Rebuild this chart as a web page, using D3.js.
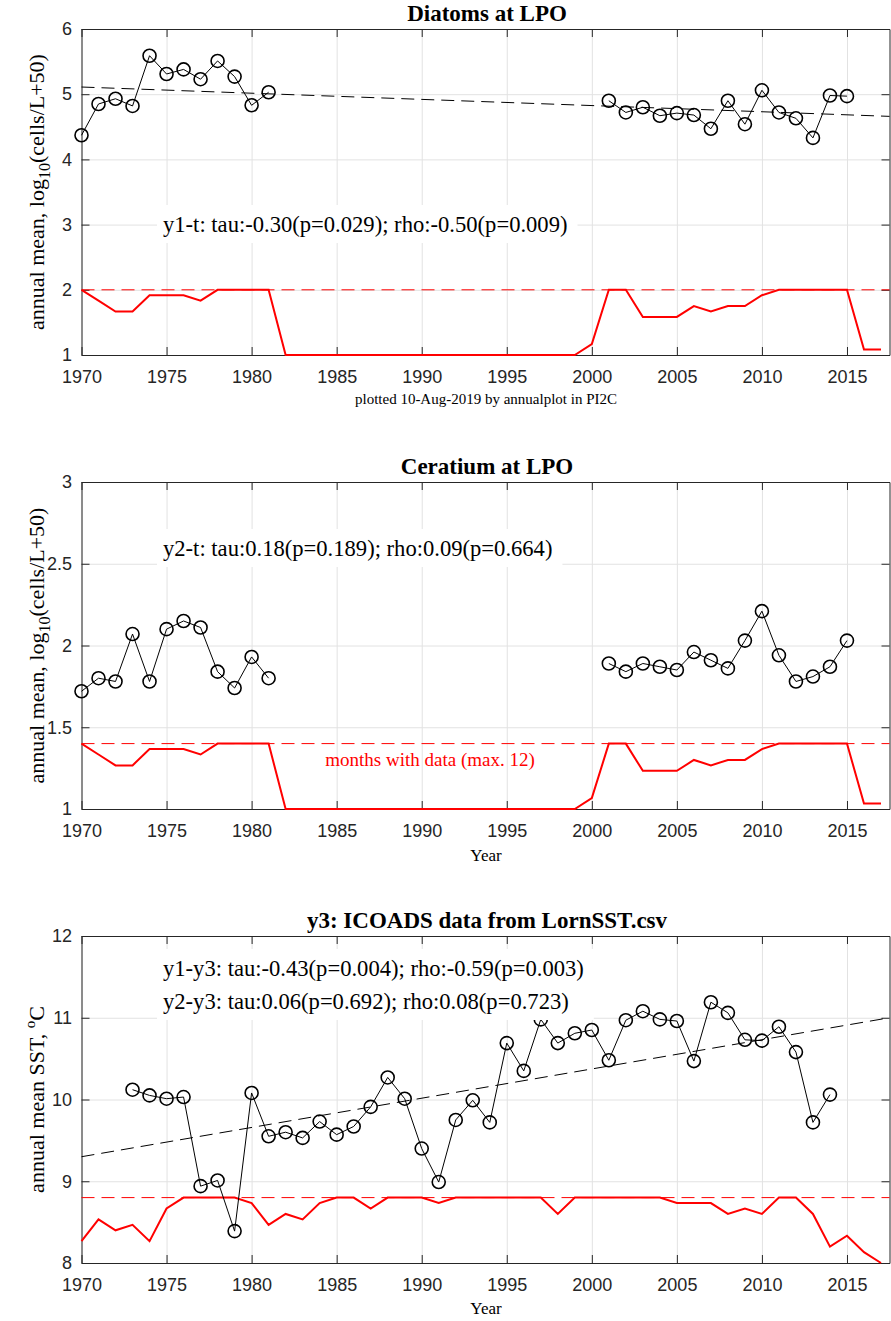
<!DOCTYPE html>
<html><head><meta charset="utf-8">
<script src="https://cdn.jsdelivr.net/npm/d3@7/dist/d3.min.js"></script>
<style>body{margin:0;background:#fff}svg{display:block}</style>
</head><body>
<script>
// ---------- DATA ----------
const years = [1970,1971,1972,1973,1974,1975,1976,1977,1978,1979,1980,1981,1982,1983,1984,1985,1986,1987,1988,1989,
  1990,1991,1992,1993,1994,1995,1996,1997,1998,1999,2000,2001,2002,2003,2004,2005,2006,2007,2008,2009,
  2010,2011,2012,2013,2014,2015,2016,2017];
const xTickValues = [1970,1975,1980,1985,1990,1995,2000,2005,2010,2015];

// Diatoms annual mean log10(cells/L+50)
const diatoms = [4.37,4.85,4.93,4.82,5.59,5.31,5.38,5.23,5.51,5.27,4.83,5.03,
  null,null,null,null,null,null,null,null,null,null,null,null,null,null,null,null,null,null,null,
  4.90,4.72,4.80,4.67,4.71,4.68,4.47,4.90,4.54,5.06,4.72,4.63,4.33,4.98,4.97,null,null];
// Ceratium annual mean log10(cells/L+50)
const ceratium = [1.72,1.80,1.78,2.07,1.78,2.10,2.15,2.11,1.84,1.74,1.93,1.80,
  null,null,null,null,null,null,null,null,null,null,null,null,null,null,null,null,null,null,null,
  1.89,1.84,1.89,1.87,1.85,1.96,1.91,1.86,2.03,2.21,1.94,1.78,1.81,1.87,2.03,null,null];
// months with plankton data (max 12)
const planktonMonths = [12,10,8,8,11,11,11,10,12,12,12,12,
  0,0,0,0,0,0,0,0,0,0,0,0,0,0,0,0,0,0,2,
  12,12,7,7,7,9,8,9,9,11,12,12,12,12,12,1,1];
// ICOADS annual mean SST
const sst = [null,null,null,10.12,10.05,10.01,10.03,8.94,9.01,8.39,10.08,9.55,9.60,9.53,9.73,9.57,9.67,9.91,10.27,10.01,
  9.40,8.99,9.75,9.99,9.72,10.69,10.35,10.98,10.69,10.81,10.85,10.48,10.97,11.08,10.98,10.96,10.47,11.19,11.06,10.73,
  10.72,10.89,10.58,9.72,10.06,null,null,null];
// months with SST data
const sstMonths = [4,8,6,7,4,10,12,12,12,12,11,7,9,8,11,12,12,10,12,12,
  12,11,12,12,12,12,12,12,9,12,12,12,12,12,12,11,11,11,9,10,
  9,12,12,9,3,5,2,0];
// linear trend end points
const trendYears = [1970, 2017.5];
const diatomTrend = [5.11, 4.66];
const sstTrend = [9.30, 11.00];

// ---------- LAYOUT ----------
const W = 891, H = 1321;
const serif = '"Liberation Serif","Times New Roman",Times,serif';
const sans = '"Liberation Sans",Arial,Helvetica,sans-serif';
const axisCol = '#262626', gridCol = '#e2e2e2';
const svg = d3.select('body').append('svg').attr('width', W).attr('height', H);
const x = d3.scaleLinear().domain([1970, 2017.5]).range([81.5, 889.5]);

function styleAxis(s, keepText){
  s.select('.domain').attr('stroke', axisCol).attr('stroke-width', 1);
  s.selectAll('.tick line').attr('stroke', axisCol).attr('stroke-width', 1);
  s.selectAll('.tick text').attr('fill', axisCol).attr('font-family', sans).attr('font-size', 18);
  if(!keepText) s.selectAll('.tick text').remove();
}

function panel(o){
  const y = d3.scaleLinear().domain(o.domain).range([o.bottom, o.top]);
  const g = svg.append('g');
  const h = o.bottom - o.top, w = x.range()[1] - x.range()[0];
  // grid
  g.append('g').attr('transform', `translate(0,${o.bottom})`)
    .call(d3.axisBottom(x).tickValues(xTickValues).tickSize(-h).tickFormat(''))
    .call(s => { s.select('.domain').remove(); s.selectAll('line').attr('stroke', gridCol); });
  g.append('g').attr('transform', `translate(${x.range()[0]},0)`)
    .call(d3.axisLeft(y).tickValues(o.ticks).tickSize(-w).tickFormat(''))
    .call(s => { s.select('.domain').remove(); s.selectAll('line').attr('stroke', gridCol); });
  // axes
  g.append('g').attr('transform', `translate(0,${o.bottom})`)
    .call(d3.axisBottom(x).tickValues(xTickValues).tickSizeInner(-8).tickSizeOuter(0).tickPadding(15).tickFormat(d3.format('d')))
    .call(s => styleAxis(s, true));
  g.append('g').attr('transform', `translate(0,${o.top})`)
    .call(d3.axisTop(x).tickValues(xTickValues).tickSizeInner(-8).tickSizeOuter(0))
    .call(s => styleAxis(s, false));
  g.append('g').attr('transform', `translate(${x.range()[0]},0)`)
    .call(d3.axisLeft(y).tickValues(o.ticks).tickSizeInner(-8).tickSizeOuter(0).tickPadding(9.5).tickFormat(d3.format('~g')))
    .call(s => styleAxis(s, true));
  g.append('g').attr('transform', `translate(${x.range()[1]},0)`)
    .call(d3.axisRight(y).tickValues(o.ticks).tickSizeInner(-8).tickSizeOuter(0))
    .call(s => styleAxis(s, false));
  // title
  g.append('text').attr('x', 487).attr('y', o.top - 8).attr('text-anchor', 'middle')
    .attr('font-family', serif).attr('font-weight', 'bold').attr('font-size', 23).text(o.title);
  return {g, y};
}

function seriesLine(g, y, vals){
  const line = d3.line().defined(d => d[1] != null).x(d => x(d[0])).y(d => y(d[1]));
  const data = years.map((yr, i) => [yr, vals[i]]);
  g.append('path').datum(data).attr('d', line).attr('fill', 'none').attr('stroke', '#000').attr('stroke-width', 1);
  g.selectAll(null).data(data.filter(d => d[1] != null)).enter().append('circle')
    .attr('cx', d => x(d[0])).attr('cy', d => y(d[1])).attr('r', 6.5)
    .attr('fill', 'none').attr('stroke', '#000').attr('stroke-width', 1.6);
}
function monthsLine(g, ym, vals){
  const line = d3.line().x((d, i) => x(years[i])).y(d => ym(d));
  g.append('path').datum(vals).attr('d', line).attr('fill', 'none').attr('stroke', '#ff0000').attr('stroke-width', 2);
}
function hDash(g, yv, col, w){
  g.append('line').attr('x1', x.range()[0]).attr('x2', x.range()[1]).attr('y1', yv).attr('y2', yv)
    .attr('stroke', col).attr('stroke-width', w).attr('stroke-dasharray', '13,7');
}
function trend(g, y, vals){
  const line = d3.line().x((d, i) => x(trendYears[i])).y(d => y(d));
  g.append('path').datum(vals).attr('d', line).attr('fill', 'none').attr('stroke', '#000')
    .attr('stroke-width', 1).attr('stroke-dasharray', '13,7');
}
function boxedText(g, lines, x0, y0, dy){
  const tg = g.append('g');
  const t = lines.map((s, i) => tg.append('text').attr('x', x0).attr('y', y0 + i * dy)
    .attr('font-family', serif).attr('font-size', 22.6).attr('fill', '#000').text(s));
  let x1 = 1e9, y1 = 1e9, x2 = -1e9, y2 = -1e9;
  t.forEach(n => { const b = n.node().getBBox(); x1 = Math.min(x1, b.x); y1 = Math.min(y1, b.y); x2 = Math.max(x2, b.x + b.width); y2 = Math.max(y2, b.y + b.height); });
  tg.insert('rect', 'text').attr('x', x1 - 6).attr('y', y1 - 7).attr('width', x2 - x1 + 16).attr('height', y2 - y1 + 13).attr('fill', '#fff');
}
function yLabel(g, cy, parts){
  const t = g.append('text').attr('transform', `translate(43.5,${cy}) rotate(-90)`).attr('text-anchor', 'middle')
    .attr('font-family', serif).attr('font-size', 22).attr('fill', '#000');
  parts.forEach(p => t.append('tspan').attr('dy', p.dy || 0).attr('font-size', p.fs || 22).text(p.t));
}

// ---------- PANEL 1 ----------
{
  const {g, y} = panel({top: 29, bottom: 355, domain: [1, 6], ticks: [1,2,3,4,5,6], title: 'Diatoms at LPO'});
  const ym = d3.scaleLinear().domain([0, 12]).range([y(1), y(2)]);
  hDash(g, ym(12), '#ff0000', 1);
  trend(g, y, diatomTrend);
  monthsLine(g, ym, planktonMonths);
  seriesLine(g, y, diatoms);
  boxedText(g, ['y1-t: tau:-0.30(p=0.029); rho:-0.50(p=0.009)'], 163, 232, 0);
  yLabel(g, 192, [{t: 'annual mean, log'}, {t: '10', fs: 16, dy: 6}, {t: '(cells/L+50)', dy: -6}]);
  g.append('text').attr('x', 486).attr('y', 404).attr('text-anchor', 'middle').attr('font-family', serif)
    .attr('font-size', 15).text('plotted 10-Aug-2019 by annualplot in PI2C');
}
// ---------- PANEL 2 ----------
{
  const {g, y} = panel({top: 482, bottom: 809, domain: [1, 3], ticks: [1,1.5,2,2.5,3], title: 'Ceratium at LPO'});
  const ym = d3.scaleLinear().domain([0, 12]).range([y(1), y(1.4)]);
  hDash(g, ym(12), '#ff0000', 1);
  monthsLine(g, ym, planktonMonths);
  seriesLine(g, y, ceratium);
  boxedText(g, ['y2-t: tau:0.18(p=0.189); rho:0.09(p=0.664)'], 163, 556, 0);
  g.append('text').attr('x', 430).attr('y', 766).attr('text-anchor', 'middle').attr('font-family', serif)
    .attr('font-size', 19).attr('fill', '#ff0000').text('months with data (max. 12)');
  yLabel(g, 645.5, [{t: 'annual mean, log'}, {t: '10', fs: 16, dy: 6}, {t: '(cells/L+50)', dy: -6}]);
  g.append('text').attr('x', 486).attr('y', 861).attr('text-anchor', 'middle').attr('font-family', serif)
    .attr('font-size', 17).text('Year');
}
// ---------- PANEL 3 ----------
{
  const {g, y} = panel({top: 936, bottom: 1263, domain: [8, 12], ticks: [8,9,10,11,12], title: 'y3: ICOADS data from LornSST.csv'});
  const ym = d3.scaleLinear().domain([0, 12]).range([y(8), y(8.8)]);
  trend(g, y, sstTrend);
  monthsLine(g, ym, sstMonths);
  hDash(g, ym(12), '#ff0000', 1);
  seriesLine(g, y, sst);
  boxedText(g, ['y1-y3: tau:-0.43(p=0.004); rho:-0.59(p=0.003)', 'y2-y3: tau:0.06(p=0.692); rho:0.08(p=0.723)'], 163, 976, 33);
  yLabel(g, 1099.5, [{t: 'annual mean SST, '}, {t: 'o', fs: 15, dy: -9}, {t: 'C', dy: 9}]);
  g.append('text').attr('x', 486).attr('y', 1314).attr('text-anchor', 'middle').attr('font-family', serif)
    .attr('font-size', 17).text('Year');
}
</script>
</body></html>
